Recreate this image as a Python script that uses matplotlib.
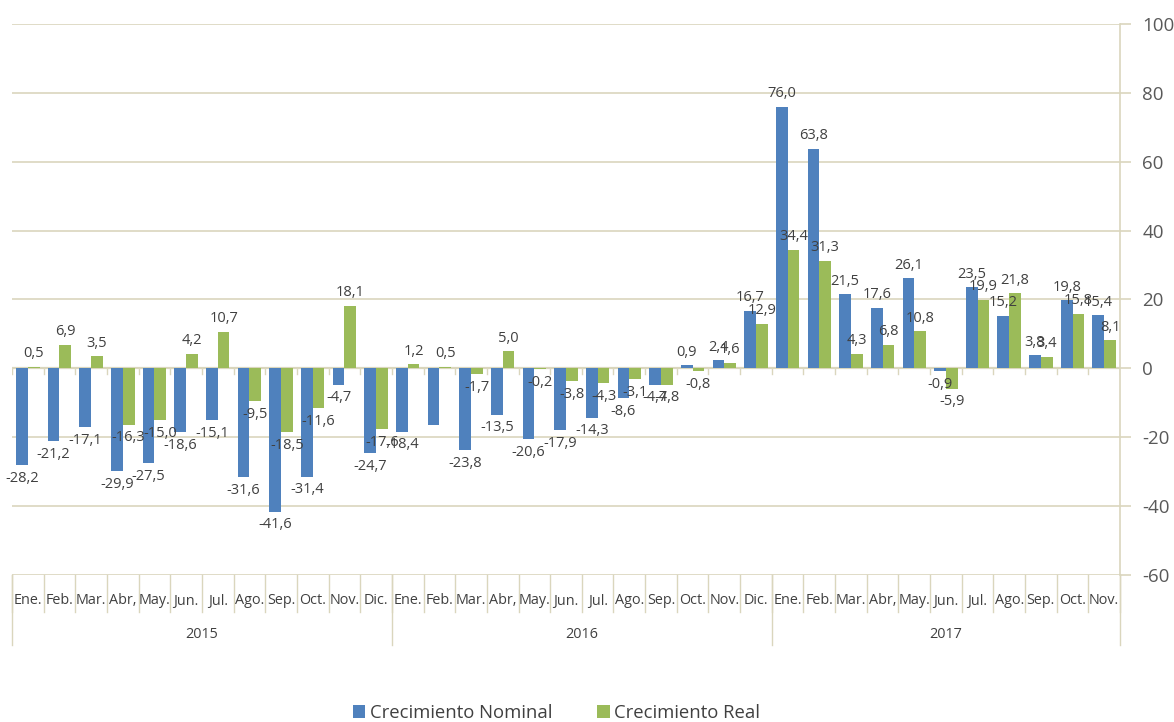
import matplotlib
matplotlib.use("Agg")
import matplotlib.pyplot as plt
import matplotlib.transforms as mtransforms
from matplotlib.patches import Patch
import numpy as np

plt.rcParams['font.family'] = ['Open Sans', 'DejaVu Sans']
plt.rcParams['axes.unicode_minus'] = False

years = ["2015", "2016", "2017"]
months_per_year = [12, 12, 11]
month_names = ["Ene.", "Feb.", "Mar.", "Abr,", "May.", "Jun.", "Jul.",
               "Ago.", "Sep.", "Oct.", "Nov.", "Dic."]

nominal = [-28.2, -21.2, -17.1, -29.9, -27.5, -18.6, -15.1, -31.6, -41.6, -31.4, -4.7, -24.7,
           -18.4, -16.3, -23.8, -13.5, -20.6, -17.9, -14.3, -8.6, -4.7, 0.9, 2.4, 16.7,
           76.0, 63.8, 21.5, 17.6, 26.1, -0.9, 23.5, 15.2, 3.8, 19.8, 15.4]
real = [0.5, 6.9, 3.5, -16.3, -15.0, 4.2, 10.7, -9.5, -18.5, -11.6, 18.1, -17.6,
        1.2, 0.5, -1.7, 5.0, -0.2, -3.8, -4.3, -3.1, -4.8, -0.8, 1.6, 12.9,
        34.4, 31.3, 4.3, 6.8, 10.8, -5.9, 19.9, 21.8, 3.4, 15.8, 8.1]
# Feb. 2016 nominal bar carries no value label
nominal_unlabeled = {13}

series_names = ["Crecimiento Nominal", "Crecimiento Real"]
blue = "#4F81BD"
green = "#9BBB59"
grid_c = "#DAD6BD"
label_c = "#404040"

month_labels = []
for n in months_per_year:
    month_labels += month_names[:n]
n_cat = len(month_labels)
x = np.arange(n_cat)

fig = plt.figure(figsize=(11.74, 7.22), dpi=100)
W, H = 1174, 722
left, right, top, bottom = 12, 1120, 24, 575
ax = fig.add_axes([left / W, 1 - bottom / H, (right - left) / W, (bottom - top) / H])

bw = 0.37
ax.bar(x - bw / 2, nominal, bw, color=blue, zorder=3, linewidth=0)
ax.bar(x + bw / 2, real, bw, color=green, zorder=3, linewidth=0)

ax.set_xlim(-0.5, n_cat - 0.5)
ax.set_ylim(-60, 100)
ax.set_yticks(np.arange(-60, 101, 20))
ax.yaxis.tick_right()
ax.tick_params(axis='y', colors=grid_c, length=8, width=1.2, labelsize=13.5,
               labelcolor="#595959", pad=8)
ax.set_xticks([])
for s in ["top", "left", "bottom"]:
    ax.spines[s].set_visible(False)
ax.spines["right"].set_color(grid_c)
ax.spines["right"].set_linewidth(1.2)
ax.grid(axis='y', color=grid_c, linewidth=1.2, zorder=0)
ax.axhline(0, color=grid_c, linewidth=1.6, zorder=2)

# small tick marks on the zero line between categories
for b in np.arange(-0.5, n_cat, 1.0):
    ax.plot([b, b], [0, -1.5], color=grid_c, linewidth=1.0, zorder=2)


def fmt(v):
    return f"{v:.1f}".replace(".", ",")


for i in range(n_cat):
    for vals, off, skip in ((nominal, -bw / 2, nominal_unlabeled), (real, bw / 2, set())):
        if i in skip:
            continue
        v = vals[i]
        ax.annotate(fmt(v), (x[i] + off, v), xytext=(0, 4 if v >= 0 else -4),
                    textcoords="offset points", ha="center",
                    va="bottom" if v >= 0 else "top",
                    fontsize=10.5, color=label_c, zorder=5)

# multi-level category axis below the plot
trans = mtransforms.blended_transform_factory(ax.transData, ax.transAxes)
ph = bottom - top
month_depth = -(612 - bottom) / ph
year_depth = -(645 - bottom) / ph
month_y = -(601 - bottom) / ph
year_y = -(634 - bottom) / ph

for i, lab in enumerate(month_labels):
    ax.text(x[i], month_y, lab, transform=trans, ha="center", va="center",
            fontsize=10.4, color=label_c)
for b in np.arange(-0.5, n_cat, 1.0):
    ax.plot([b, b], [0, month_depth], transform=trans, color=grid_c,
            linewidth=1.0, clip_on=False)

start = 0
boundaries = [-0.5]
for yr, n in zip(years, months_per_year):
    ax.text(start + (n - 1) / 2, year_y, yr, transform=trans, ha="center",
            va="center", fontsize=10.4, color=label_c)
    start += n
    boundaries.append(start - 0.5)
for b in boundaries:
    ax.plot([b, b], [0, year_depth], transform=trans, color=grid_c,
            linewidth=1.0, clip_on=False)

handles = [Patch(facecolor=blue, edgecolor="none"), Patch(facecolor=green, edgecolor="none")]
fig.legend(handles, series_names, loc="center", bbox_to_anchor=(0.474, 1 - 713 / H),
           ncol=2, frameon=False, fontsize=13.3, handlelength=0.7, handleheight=0.7,
           handletextpad=0.25, columnspacing=2.4, labelcolor="#404040")

fig.savefig("out.png", dpi=100)
